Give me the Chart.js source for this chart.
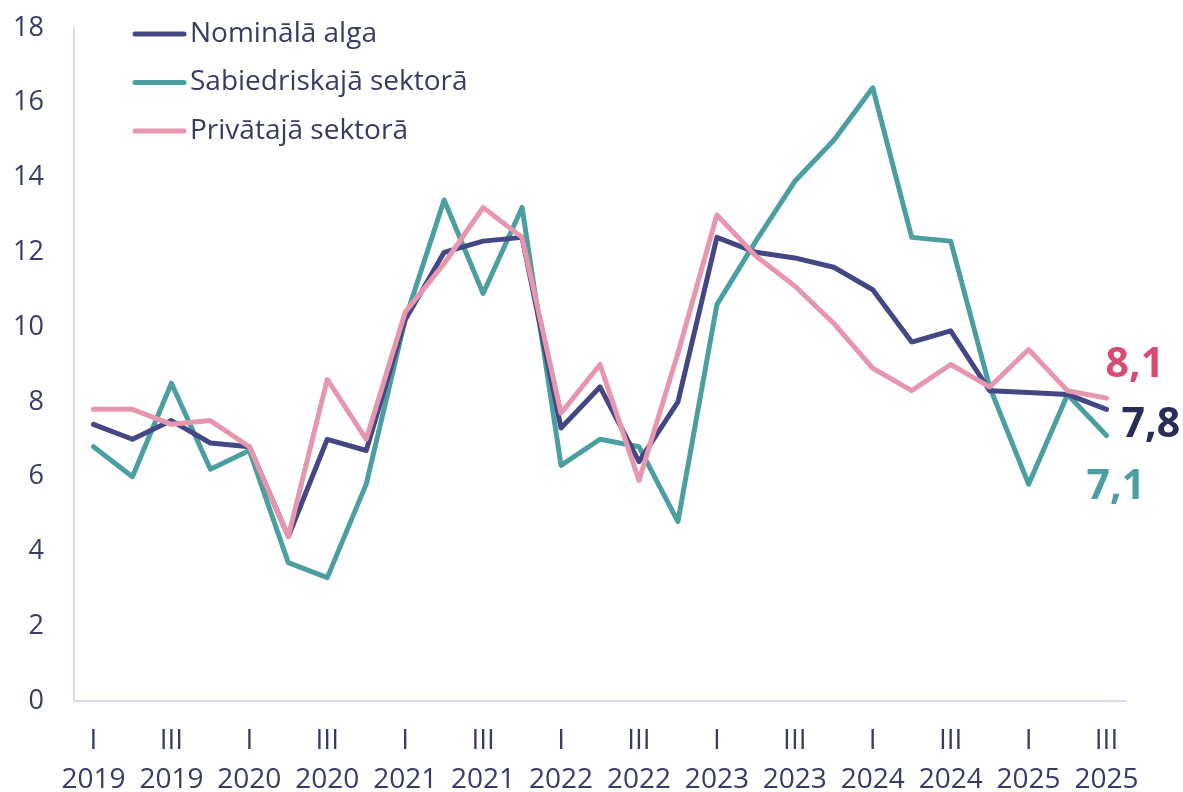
<!DOCTYPE html>
<html lang="lv">
<head>
    <meta charset="UTF-8">
    <title>Algu pieaugums</title>
    <script src="https://cdn.jsdelivr.net/npm/chart.js"></script>
    <style>
        html, body { margin: 0; padding: 0; background: #fff; overflow: hidden; }
        #chartContainer { width: 1183px; height: 792px; }
    </style>
</head>
<body>
    <div id="chartContainer">
        <canvas id="myChart" width="1183" height="792"></canvas>
    </div>

    <script>
        // Quarters 2019 Q1 .. 2025 Q3
        const years = ['2019', '2020', '2021', '2022', '2023', '2024', '2025'];
        const quarterNames = ['I', 'II', 'III', 'IV'];
        const lastQuarterCount = 27;

        const nominal = [7.4, 7.0, 7.5, 6.9, 6.8, 4.4, 7.0, 6.7, 10.2, 12.0, 12.3, 12.4, 7.3, 8.4, 6.4, 8.0,
                         12.4, 12.0, 11.85, 11.6, 11.0, 9.6, 9.9, 8.3, 8.25, 8.2, 7.8];
        const publicSector = [6.8, 6.0, 8.5, 6.2, 6.7, 3.7, 3.3, 5.8, 10.2, 13.4, 10.9, 13.2, 6.3, 7.0, 6.8, 4.8,
                              10.6, 12.3, 13.9, 15.0, 16.4, 12.4, 12.3, 8.4, 5.8, 8.2, 7.1];
        const privateSector = [7.8, 7.8, 7.4, 7.5, 6.8, 4.4, 8.6, 7.0, 10.4, 11.7, 13.2, 12.4, 7.7, 9.0, 5.9, 9.3,
                               13.0, 11.9, 11.1, 10.1, 8.9, 8.3, 9.0, 8.4, 9.4, 8.3, 8.1];

        const labels = [];
        for (let i = 0; i < lastQuarterCount; i++) {
            labels.push([quarterNames[i % 4], years[Math.floor(i / 4)]]);
        }

        const textColor = '#383b62';
        const axisColor = '#d7d9ec';

        // Legend drawn inside the plot, top left
        const insideLegend = {
            id: 'insideLegend',
            afterDraw(chart) {
                const ctx = chart.ctx;
                ctx.save();
                ctx.font = '28px "Open Sans"';
                ctx.textBaseline = 'middle';
                chart.data.datasets.forEach((ds, i) => {
                    const y = 34 + i * 48.5;
                    ctx.strokeStyle = ds.borderColor;
                    ctx.lineWidth = 5;
                    ctx.lineCap = 'round';
                    ctx.beginPath();
                    ctx.moveTo(135, y);
                    ctx.lineTo(184, y);
                    ctx.stroke();
                    ctx.fillStyle = textColor;
                    ctx.fillText(ds.label, 190, y);
                });
                ctx.restore();
            }
        };

        // Last value of each series written next to the line end
        const endLabels = {
            id: 'endLabels',
            afterDatasetsDraw(chart) {
                const ctx = chart.ctx;
                ctx.save();
                ctx.font = 'bold 41px "Open Sans"';
                ctx.textBaseline = 'middle';
                ctx.textAlign = 'left';
                chart.data.datasets.forEach((ds, i) => {
                    const meta = chart.getDatasetMeta(i);
                    const pt = meta.data[meta.data.length - 1];
                    const value = ds.data[ds.data.length - 1];
                    ctx.fillStyle = ds.endLabel.color;
                    ctx.fillText(value.toFixed(1).replace('.', ','), pt.x + ds.endLabel.dx, pt.y + ds.endLabel.dy);
                });
                ctx.restore();
            }
        };

        const ctx = document.getElementById('myChart').getContext('2d');
        const myChart = new Chart(ctx, {
            type: 'line',
            data: {
                labels: labels,
                datasets: [
                    {
                        label: 'Nominālā alga',
                        data: nominal,
                        borderColor: '#454684',
                        order: 1,
                        endLabel: { color: '#2b2c56', dx: 15, dy: 16 }
                    },
                    {
                        label: 'Sabiedriskajā sektorā',
                        data: publicSector,
                        borderColor: '#4b9fa0',
                        order: 2,
                        endLabel: { color: '#4b9fa0', dx: -20, dy: 52 }
                    },
                    {
                        label: 'Privātajā sektorā',
                        data: privateSector,
                        borderColor: '#e697ae',
                        order: 0,
                        endLabel: { color: '#d84b73', dx: -1, dy: -33 }
                    }
                ]
            },
            options: {
                responsive: false,
                animation: false,
                devicePixelRatio: 1,
                layout: {
                    padding: { top: 28, right: 57, left: 0, bottom: 0 }
                },
                elements: {
                    line: {
                        borderWidth: 5,
                        tension: 0,
                        fill: false,
                        borderCapStyle: 'round',
                        borderJoinStyle: 'round'
                    },
                    point: { radius: 0, hoverRadius: 0 }
                },
                plugins: {
                    legend: { display: false },
                    tooltip: { enabled: false }
                },
                scales: {
                    x: {
                        offset: true,
                        grid: { display: false, drawTicks: false },
                        border: { display: true, color: axisColor, width: 2 },
                        afterFit(scale) {
                            scale.height = 91;
                            scale.paddingLeft = 0;
                            scale.paddingRight = 0;
                        },
                        ticks: {
                            autoSkip: false,
                            maxRotation: 0,
                            padding: 21,
                            color: textColor,
                            font: { family: '"Open Sans"', size: 28, lineHeight: 1.39 },
                            callback(value, index) {
                                return index % 2 === 0 ? this.getLabelForValue(value) : '';
                            }
                        }
                    },
                    y: {
                        min: 0,
                        max: 18,
                        grid: { display: false, drawTicks: false },
                        border: { display: true, color: axisColor, width: 2 },
                        afterFit(scale) {
                            scale.width = 74;
                            scale.paddingTop = 0;
                            scale.paddingBottom = 0;
                        },
                        ticks: {
                            stepSize: 2,
                            padding: 30,
                            color: textColor,
                            font: { family: '"Open Sans"', size: 27 }
                        }
                    }
                }
            },
            plugins: [insideLegend, endLabels]
        });
    </script>
</body>
</html>
